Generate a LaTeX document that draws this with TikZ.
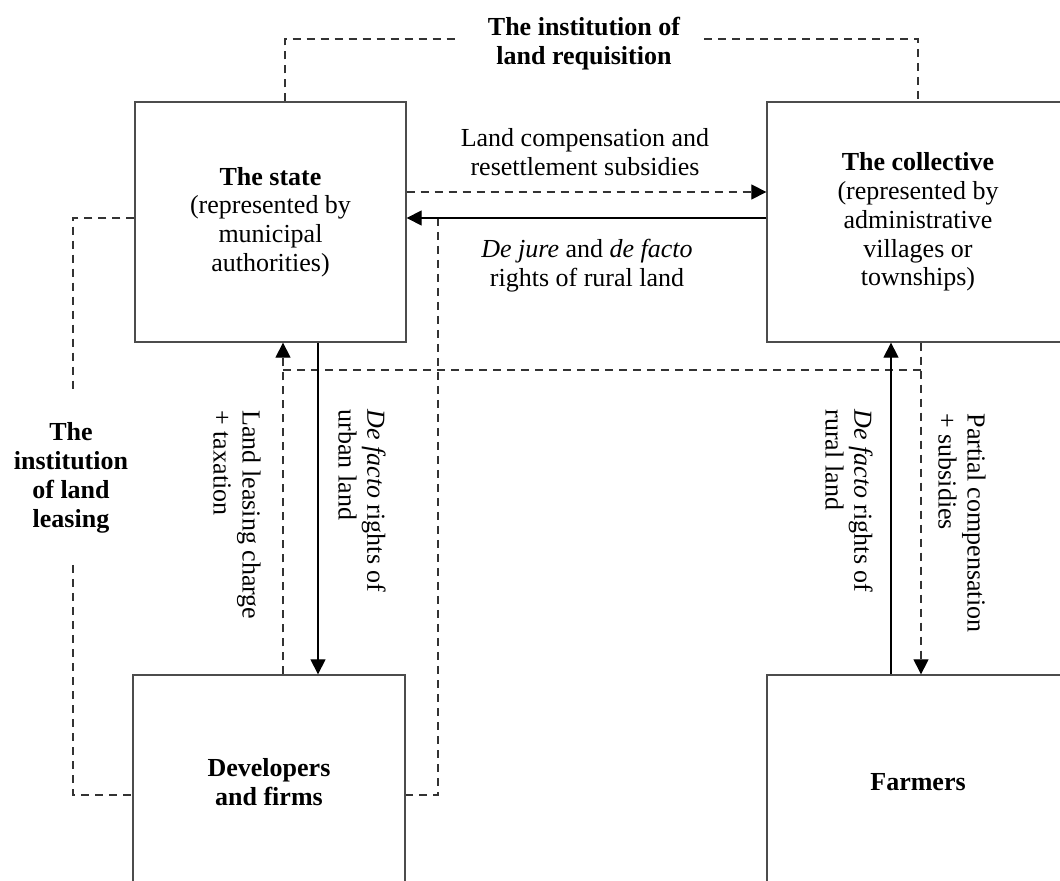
\documentclass[tikz,border=0pt]{standalone}
\usepackage{fontspec}
\setmainfont{Liberation Serif}
\usetikzlibrary{arrows.meta}
\tikzset{
  txt/.style={font=\fontsize{13}{14.4}\selectfont, align=center, inner sep=0pt},
  box/.style={draw=black!70, line width=0.65pt, inner sep=0pt, txt},
  dsh/.style={draw=black!80, line width=0.6pt, dash pattern=on 4.2pt off 2.8pt},
  sol/.style={draw=black, line width=0.6pt},
  arr/.style={-{Triangle[length=7.5pt,width=7.5pt,color=black]}},
}
\begin{document}
\begin{tikzpicture}[x=0.5pt,y=-0.5pt]
\useasboundingbox (0,0) rectangle (1060,881);
\clip (0,0) rectangle (1060,881);

% boxes
\node[box, minimum width=135.5pt, minimum height=120pt] (state) at (270.5,222)
  {{\bfseries The state}\\(represented by\\municipal\\authorities)};
\node[box, minimum width=151pt, minimum height=120pt] (coll) at (918,222)
  {{\bfseries The collective}\\(represented by\\administrative\\villages or\\townships)};
\node[box, minimum width=136pt, minimum height=107pt] (dev) at (269,782)
  {\bfseries Developers\\\bfseries and firms};
\node[box, minimum width=151pt, minimum height=107pt] (farm) at (918,782)
  {\bfseries Farmers};

% institution labels
\node[txt, font=\fontsize{13}{14.4}\selectfont\bfseries] (req) at (584,44)
  {The institution of\\land requisition};
\node[txt, font=\fontsize{13}{14.4}\selectfont\bfseries] (lease) at (71,478)
  {The\\institution\\of land\\leasing};
\coordinate (rq1) at (455,39);
\coordinate (rq2) at (704,39);
\coordinate (lg1) at (73,393);
\coordinate (lg2) at (73,565);
\coordinate (j1) at (438,218);
\coordinate (h1) at (283,370);
\coordinate (h2) at (921,370);

% land requisition institution
\draw[dsh] ([xshift=7.25pt]state.north) |- (rq1);
\draw[dsh] (rq2) -| (coll.north);
% land leasing institution
\draw[dsh] ([yshift=2pt]state.west) -| (lg1);
\draw[dsh] (lg2) |- ([yshift=-6.5pt]dev.west);
\draw[dsh] (j1) |- ([yshift=-6.5pt]dev.east);
\draw[dsh] (h1) -- (h2);

% state <-> collective
\draw[dsh, arr] ([yshift=15pt]state.east) -- ([yshift=15pt]coll.west);
\draw[sol, arr] ([yshift=2pt]coll.west) -- ([yshift=2pt]state.east);
\node[txt] (lc) at (585,152) {Land compensation and\\resettlement subsidies};
\node[txt] (dj) at (587,266) {\textit{De jure} and \textit{de facto}\\rights of rural land};

% state <-> developers
\draw[dsh, arr] ([xshift=7pt]dev.north) -- ([xshift=7pt]dev.north |- state.south);
\draw[sol, arr] ([xshift=23.75pt]state.south) -- ([xshift=23.75pt]state.south |- dev.north);
\node[txt, rotate=-90, align=left] (llc) at (237,515) {Land leasing charge\\+ taxation};
\node[txt, rotate=-90, align=left] (dfu) at (362,501) {\textit{De facto} rights of\\urban land};

% collective <-> farmers
\draw[sol, arr] ([xshift=-13.5pt]farm.north) -- ([xshift=-13.5pt]farm.north |- coll.south);
\draw[dsh, arr] ([xshift=1.5pt]coll.south) -- ([xshift=1.5pt]coll.south |- farm.north);
\node[txt, rotate=-90, align=left] (dfr) at (849,501) {\textit{De facto} rights of\\rural land};
\node[txt, rotate=-90, align=left] (pcs) at (962,523) {Partial compensation\\+ subsidies};
\end{tikzpicture}
\end{document}
